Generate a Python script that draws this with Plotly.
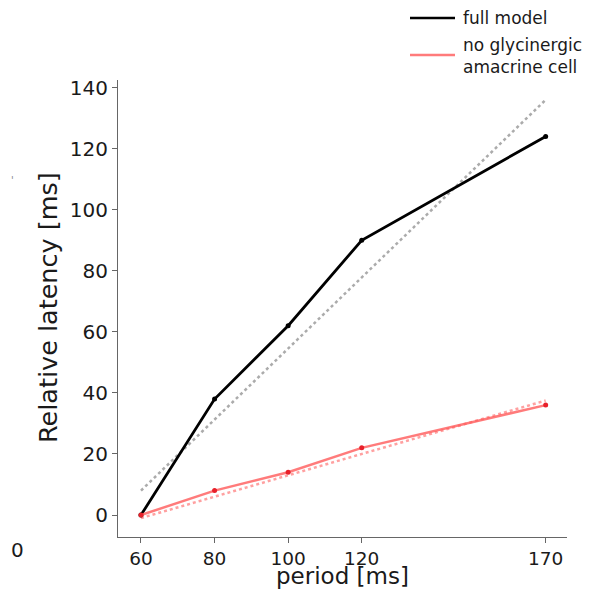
import plotly.graph_objects as go

periods = [60, 80, 100, 120, 170]
full_model = [0, 38, 62, 90, 124]
no_glycinergic = [0, 8, 14, 22, 36]
fit_x = [60, 170]
fit_full = [8, 136]
fit_noglyc = [-1, 37.5]
x_ticks = [60, 80, 100, 120, 170]
y_ticks = [0, 20, 40, 60, 80, 100, 120, 140]
legend_labels = ["full model", "no glycinergic<br>amacrine cell"]

W, H = 597, 591
L, R, T, B = 118, 30, 80, 54
PW, PH = W - L - R, H - T - B


def px(x):
    return (x - L) / PW


def py(y):
    return (H - B - y) / PH


font = "DejaVu Sans"
black = "black"
red_line = "rgba(255,90,90,0.8)"
txt = "#1a1a1a"

fig = go.Figure()
fig.add_trace(go.Scatter(x=fit_x, y=fit_full, mode="lines", showlegend=False,
                         line=dict(color="rgba(150,150,150,0.8)", width=2.5, dash="dot")))
fig.add_trace(go.Scatter(x=fit_x, y=fit_noglyc, mode="lines", showlegend=False,
                         line=dict(color="rgba(255,120,120,0.7)", width=2.5, dash="dot")))
fig.add_trace(go.Scatter(x=periods, y=full_model, mode="lines+markers", showlegend=False,
                         line=dict(color=black, width=2.8), marker=dict(size=5, color=black)))
fig.add_trace(go.Scatter(x=periods, y=no_glycinergic, mode="lines+markers", showlegend=False,
                         line=dict(color=red_line, width=2.5),
                         marker=dict(size=5, color="#e8202a")))

axis_common = dict(showgrid=False, zeroline=False, showline=True, linecolor="#666666",
                   linewidth=1.2, ticks="outside", ticklen=5, tickcolor="#666666",
                   automargin=False)


def note(text, x, y, size, **kw):
    d = dict(text=text, x=px(x), y=py(y), xref="paper", yref="paper", showarrow=False,
             xanchor="center", yanchor="middle", borderpad=0,
             font=dict(family=font, size=size, color=txt))
    d.update(kw)
    return d


ann = [
    note("0", 17, 550, 20),
    note("period [ms]", 342, 576, 23),
    note("Relative latency [ms]", 48, 308, 25.5, textangle=-90),
    note(legend_labels[0], 462, 18, 17, xanchor="left"),
    note(legend_labels[1], 462, 56, 17, xanchor="left", align="left"),
    note("'", 12, 180, 10, font=dict(family=font, size=10, color="#888888")),
]
shapes = [
    dict(type="line", xref="paper", yref="paper", x0=px(410), x1=px(455), y0=py(18), y1=py(18),
         line=dict(color=black, width=2.5)),
    dict(type="line", xref="paper", yref="paper", x0=px(410), x1=px(455), y0=py(55), y1=py(55),
         line=dict(color=red_line, width=2.5)),
]

fig.update_layout(
    width=W, height=H,
    paper_bgcolor="white", plot_bgcolor="white",
    margin=dict(l=L, r=R, t=T, b=B),
    font=dict(family=font, color=txt),
    xaxis=dict(range=[53.75, 175.8], tickvals=x_ticks,
               tickfont=dict(family=font, size=18.5, color=txt), **axis_common),
    yaxis=dict(range=[-7.2, 142.5], tickvals=y_ticks,
               tickfont=dict(family=font, size=20, color=txt), **axis_common),
    showlegend=False,
    annotations=ann,
    shapes=shapes,
)
fig.write_html("out.html", config={"displayModeBar": False},
               post_script="document.body.style.margin='0';document.body.style.overflow='hidden';")
